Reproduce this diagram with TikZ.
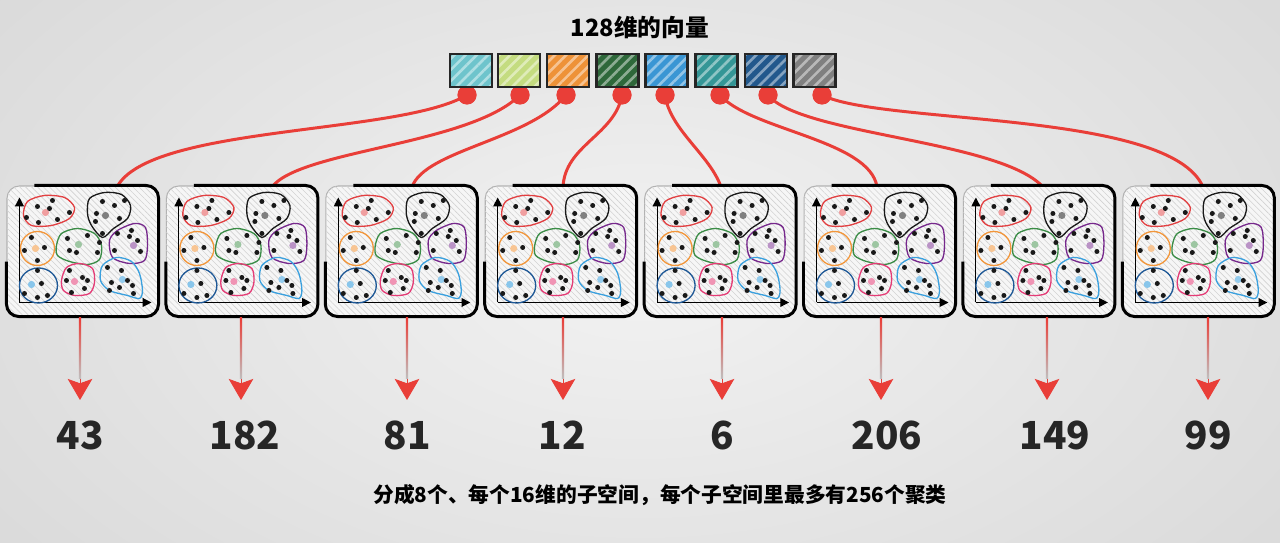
\documentclass[tikz,border=0pt]{standalone}
\usepackage{fontspec}
\setmainfont{Noto Sans CJK SC}
\usetikzlibrary{arrows.meta}
\usetikzlibrary{calc}
\usetikzlibrary{patterns.meta}

\definecolor{vecred}{RGB}{233,62,56}
\definecolor{bgin}{RGB}{242,242,242}
\definecolor{bgout}{RGB}{214,214,214}
\definecolor{boxbg}{RGB}{246,246,246}
\definecolor{sqa}{RGB}{110,196,204}
\definecolor{sqb}{RGB}{196,220,128}
\definecolor{sqc}{RGB}{238,146,56}
\definecolor{sqd}{RGB}{46,104,58}
\definecolor{sqe}{RGB}{58,150,212}
\definecolor{sqf}{RGB}{52,150,150}
\definecolor{sqg}{RGB}{34,88,140}
\definecolor{sqh}{RGB}{128,128,128}
\definecolor{cred}{RGB}{226,64,66}
\definecolor{cblack}{RGB}{25,25,25}
\definecolor{corange}{RGB}{242,150,58}
\definecolor{cgreen}{RGB}{58,140,70}
\definecolor{cpurple}{RGB}{118,40,140}
\definecolor{cblue}{RGB}{30,88,150}
\definecolor{cpink}{RGB}{228,60,118}
\definecolor{clblue}{RGB}{58,160,222}

\tikzset{
  clusters/.pic={
    \draw[axisline] (20,117) -- (20,12);
    \draw[axisline] (20,117) -- (152,117);
    % outlines
    \draw[blob=cred] plot[smooth cycle] coordinates {(24,30) (28,16) (45,10) (65,12) (75,22) (70,33) (52,40) (32,40)};
    \draw[blob=cblack] plot[smooth cycle] coordinates {(88,28) (90,13) (105,7) (122,9) (131,20) (128,33) (114,43) (103,52) (92,40)};
    \draw[blob=corange] (38,63) circle (17);
    \draw[blob=cgreen] plot[smooth cycle] coordinates {(57,60) (62,48) (78,43) (95,48) (102,60) (100,74) (88,79) (70,76) (58,70)};
    \draw[blob=cpurple] plot[smooth cycle] coordinates {(110,55) (118,45) (135,38) (146,42) (148,60) (145,75) (130,78) (113,72)};
    \draw[blob=cblue] (39,100) ellipse (19 and 17.5);
    \draw[blob=cpink] plot[smooth cycle] coordinates {(62,95) (67,82) (80,78) (93,83) (95,97) (90,108) (75,110) (64,105)};
    \draw[blob=clblue] plot[smooth cycle] coordinates {(101,95) (103,80) (117,72) (132,76) (140,88) (143,105) (140,113) (128,110) (110,105)};
    % centroids
    \fill[cred!50] (46,27) circle (3.6);
    \fill[gray] (106,30) circle (3.6);
    \fill[corange!55] (36,63) circle (3.6);
    \fill[cgreen!50] (79,59) circle (3.6);
    \fill[cpurple!50] (134,60) circle (3.6);
    \fill[clblue!60] (32,99) circle (3.6);
    \fill[cpink!55] (75,96) circle (3.6);
    \fill[clblue!55] (123,94) circle (3.6);
    % points
    \foreach \p in {(38,21),(53,15),(50,23),(27,32),(70,27),(39,37),(58,34),
      (103,16),(115,20),(125,15),(97,28),(96,36),(120,33),(103,48),
      (32,52),(25,65),(45,62),(38,75),
      (68,53),(88,50),(70,65),(100,57),(77,67),(98,67),
      (118,48),(132,45),(138,55),(141,66),(115,65),(130,51),
      (38,85),(42,98),(25,108),(38,112),(48,110),
      (70,85),(83,92),(67,95),(88,95),(85,103),(72,107),
      (108,82),(122,85),(112,97),(128,95),(133,100),(120,102),(134,108),(110,105)}
      \fill[cblack] \p circle (2.5);
  }
}

\begin{document}
\begin{tikzpicture}[x=0.02cm,y=-0.02cm,
  vdot/.style={circle,fill=vecred,minimum size=0.38cm,inner sep=0pt},
  link/.style={draw=vecred,line width=1.7pt},
  vecsq/.style={draw=black!85,line width=1.4pt,minimum width=0.84cm,minimum height=0.66cm,inner sep=0pt,
    preaction={fill=#1},
    preaction={pattern={Lines[angle=45,distance=4.5pt,line width=1.5pt]},pattern color=#1!55!white}},
  subbox/.style={draw=gray!60,line width=0.6pt,rounded corners=7pt,minimum width=3.02cm,minimum height=2.6cm,inner sep=0pt,fill=boxbg,
    postaction={pattern={Lines[angle=-45,distance=2.4pt,line width=0.35pt]},pattern color=gray!35}},
  boxedge/.style={draw=black,line width=1.7pt,rounded corners=7pt},
  axisline/.style={draw=black,line width=0.6pt,-{Triangle[length=5pt,width=5pt]}},
  blob/.style={draw=#1,line width=0.75pt},
  stemtip/.style={draw=vecred,line width=0.5pt,-{Stealth[length=12pt,width=14pt,inset=2.5pt]}},
  numlab/.style={font=\bfseries\fontsize{22}{26}\selectfont,text=black!85},
  heading/.style={font=\bfseries\fontsize{13.5}{16}\selectfont},
  caption/.style={font=\bfseries\fontsize{11.8}{14}\selectfont}]

\useasboundingbox (0,0) rectangle (1280,543);
\begin{scope}
  \clip (0,0) rectangle (1280,543);
  \shade[inner color=bgin,outer color=bgout] (-300,-280) rectangle (1580,823);
\end{scope}

\node[heading] (ttl) at (640,27) {128维的向量};

% curves from the vector parts to the subspaces
\foreach \x [count=\i] in {467,520,566,622,665,720,768,822}
  \node[vdot] (d\i) at (\x,95) {};
\foreach \x [count=\i] in {117,272,412,563,721,877,1043,1203}
  \coordinate (e\i) at (\x,187);
\draw[link] (d1.center) .. controls (400,135) and (150,125) .. (e1);
\draw[link] (d2.center) .. controls (470,145) and (300,150) .. (e2);
\draw[link] (d3.center) .. controls (530,140) and (425,150) .. (e3);
\draw[link] (d4.center) .. controls (615,135) and (565,145) .. (e4);
\draw[link] (d5.center) .. controls (670,130) and (710,155) .. (e5);
\draw[link] (d6.center) .. controls (750,130) and (870,140) .. (e6);
\draw[link] (d7.center) .. controls (800,135) and (1000,140) .. (e7);
\draw[link] (d8.center) .. controls (880,125) and (1170,110) .. (e8);
\foreach \i in {1,...,8}
  \fill[vecred] (d\i) circle (9.5);

\foreach \x/\c [count=\i] in {471/sqa,519/sqb,568/sqc,617.5/sqd,666.5/sqe,716.5/sqf,766/sqg,814.5/sqh}
  \node[vecsq=\c] (s\i) at (\x,70.5) {};

% subspaces
\foreach \i in {1,...,8} {
  \node[subbox] (b\i) at ({82.5+159.4*(\i-1)},251) {};
  \draw[boxedge] ($(b\i.north west)+(28,0)$) -- (b\i.north east) -- (b\i.south east) -- (b\i.south west) -- ($(b\i.south west)+(0,-55)$);
  \pic at ($(b\i.north west)+(-7,0)$) {clusters};
}

% codes
\foreach \x/\n/\v [count=\i] in {80/80/43,241/245/182,407/407/81,563/562/12,722/722/6,881/887/206,1047/1055/149,1208/1208/99} {
  \coordinate (t\i) at (\x,318);
  \coordinate (h\i) at (\x,379);
  \coordinate (p\i) at (\x,400);
  \shade[top color=vecred,bottom color=gray!50] ($(t\i)+(-1.2,0)$) rectangle ($(h\i)+(1.2,0)$);
  \draw[stemtip] (h\i) -- (p\i);
  \node[numlab] (n\i) at (\n,435) {\v};
}

\node[caption] (cap) at (660,495) {分成8个、每个16维的子空间，每个子空间里最多有256个聚类};
\end{tikzpicture}
\end{document}
